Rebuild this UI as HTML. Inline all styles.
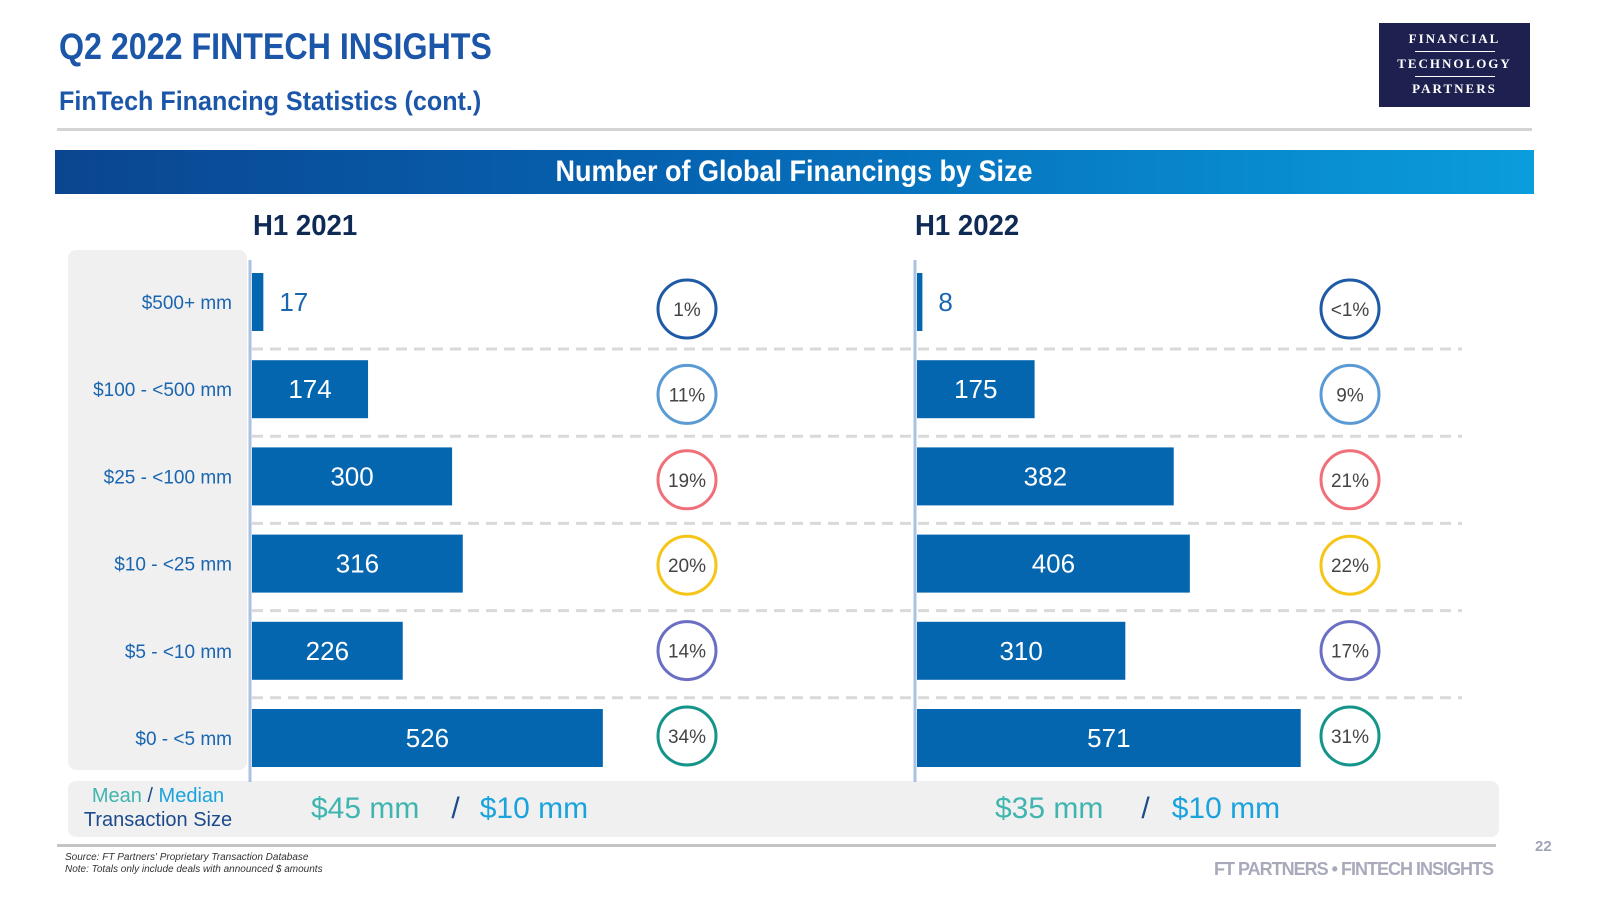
<!DOCTYPE html>
<html><head><meta charset="utf-8"><style>
body{margin:0;width:1600px;height:900px;background:#fff;position:relative;overflow:hidden;font-family:"Liberation Sans",sans-serif}
.a{position:absolute}
.cond{display:inline-block;transform-origin:0 0}
</style></head><body>
<div class="a" style="left:59px;top:26px;font-size:37px;font-weight:bold;color:#1b56a8;white-space:nowrap"><span class="cond" style="transform:scaleX(0.87)">Q2 2022 FINTECH INSIGHTS</span></div>
<div class="a" style="left:59px;top:86px;font-size:27px;font-weight:bold;color:#1b56a8;white-space:nowrap"><span class="cond" style="transform:scaleX(0.93)">FinTech Financing Statistics (cont.)</span></div>
<div class="a" style="left:1379px;top:23px;width:151px;height:84px;background:#1e2150;color:#fff;font-family:'Liberation Serif',serif;font-size:13px;letter-spacing:2px;text-align:center;font-weight:bold">
<div style="margin-top:8px">FINANCIAL</div><div style="width:80px;height:1px;background:#fff;margin:4px auto"></div>
<div>TECHNOLOGY</div><div style="width:80px;height:1px;background:#fff;margin:4px auto"></div><div>PARTNERS</div></div>
<div class="a" style="left:57px;top:128px;width:1475px;height:3px;background:#d4d4d4"></div>
<div class="a" style="left:55px;top:150px;width:1479px;height:44px;background:linear-gradient(90deg,#0b4590,#0566b4 45%,#0a9ddc);color:#fff;font-size:30px;font-weight:bold;text-align:center;line-height:44px"><span class="cond" style="transform:scaleX(0.9);transform-origin:50% 0">Number of Global Financings by Size</span></div>
<div class="a" style="left:253px;top:210px;font-size:29px;font-weight:bold;color:#0f2a55"><span class="cond" style="transform:scaleX(0.95)">H1 2021</span></div>
<div class="a" style="left:915px;top:210px;font-size:29px;font-weight:bold;color:#0f2a55"><span class="cond" style="transform:scaleX(0.95)">H1 2022</span></div>
<div class="a" style="left:68px;top:250px;width:179px;height:520px;background:#f0f0f0;border-radius:8px"></div>
<div class="a" style="left:68px;top:781px;width:1431px;height:56px;background:#f0f0f0;border-radius:8px"></div>
<svg class="a" style="left:0;top:0" width="1600" height="900" id="chart"></svg>
<div class="a" style="left:68px;top:784px;width:180px;text-align:center;font-size:20px;line-height:24px">
<span style="color:#3fb5b0">Mean</span> <span style="color:#1c4a8c">/</span> <span style="color:#1aa3dc">Median</span><br><span style="color:#1c4a8c">Transaction Size</span></div>
<div class="a" style="left:311px;top:792px;font-size:30px;white-space:nowrap"><span style="color:#3fb5b0">$45 mm</span><span style="color:#1c4a8c;margin:0 20px 0 32px">/</span><span style="color:#1aa3dc">$10 mm</span></div>
<div class="a" style="left:995px;top:792px;font-size:30px;white-space:nowrap"><span style="color:#3fb5b0">$35 mm</span><span style="color:#1c4a8c;margin:0 22px 0 38px">/</span><span style="color:#1aa3dc">$10 mm</span></div>
<div class="a" style="left:57px;top:844px;width:1439px;height:3px;background:#c4c4c4"></div>
<div class="a" style="left:65px;top:852px;font-size:10px;font-style:italic;color:#333;line-height:12px">Source: FT Partners' Proprietary Transaction Database<br>Note: Totals only include deals with announced $ amounts</div>
<div class="a" style="left:1535px;top:838px;font-size:15px;font-weight:bold;color:#a0a3b8">22</div>
<div class="a" style="left:1196px;top:859px;width:297px;text-align:right;font-size:18px;font-weight:bold;color:#a8aabb;white-space:nowrap;letter-spacing:-1px">FT PARTNERS • FINTECH INSIGHTS</div>
<script>
const categories=["$500+ mm","$100 - <500 mm","$25 - <100 mm","$10 - <25 mm","$5 - <10 mm","$0 - <5 mm"];
const values2021=[17,174,300,316,226,526];
const values2022=[8,175,382,406,310,571];
const pct2021=["1%","11%","19%","20%","14%","34%"];
const pct2022=["<1%","9%","21%","22%","17%","31%"];
const circleColors=["#1f5aa6","#5b9bd5","#f0707a","#f5c518","#6a6fc4","#15958a"];
const svg=document.getElementById('chart');const NS='http://www.w3.org/2000/svg';
function mk(t,a,p){const e=document.createElementNS(NS,t);for(const k in a)e.setAttribute(k,a[k]);(p||svg).appendChild(e);return e;}
const rowY=i=>302+i*87.2;
const circY=i=>309+i*85.4;
const panels=[{x0:252,scale:0.667,vals:values2021,pct:pct2021,cx:687,name:'2021'},{x0:917,scale:0.672,vals:values2022,pct:pct2022,cx:1350,name:'2022'}];
for(let i=0;i<5;i++){const y=rowY(i)+47;
const d=mk('line',{x1:252,x2:1462,y1:y,y2:y,stroke:'#d9d9d9','stroke-width':3,'stroke-dasharray':'11 7'});

}
categories.forEach((c,i)=>{const t=mk('text',{x:232,y:rowY(i)+7,'text-anchor':'end','font-size':19,fill:'#1a65b0'});t.textContent=c;

});
panels.forEach(p=>{
p.vals.forEach((v,i)=>{const w=v*p.scale,y=rowY(i);
const r=mk('rect',{x:p.x0,y:y-29,width:w,height:58,fill:'#0566b0'});


const inside=w>80;
const t=mk('text',{x:inside?p.x0+w/2:p.x0+w+16,y:y+9,'text-anchor':inside?'middle':'start','font-size':26,fill:inside?'#fff':'#1a65b0'});t.textContent=v;


const cy=circY(i);
const c=mk('ellipse',{cx:p.cx,cy:cy,rx:29,ry:29,fill:'#fff',stroke:circleColors[i],'stroke-width':3});


const pt=mk('text',{x:p.cx,y:cy+7,'text-anchor':'middle','font-size':19,fill:'#444'});pt.textContent=p.pct[i];

});
const ax=mk('line',{x1:p.x0-2,x2:p.x0-2,y1:260,y2:782,stroke:'#a9c2e4','stroke-width':3});

});
</script>
</body></html>
